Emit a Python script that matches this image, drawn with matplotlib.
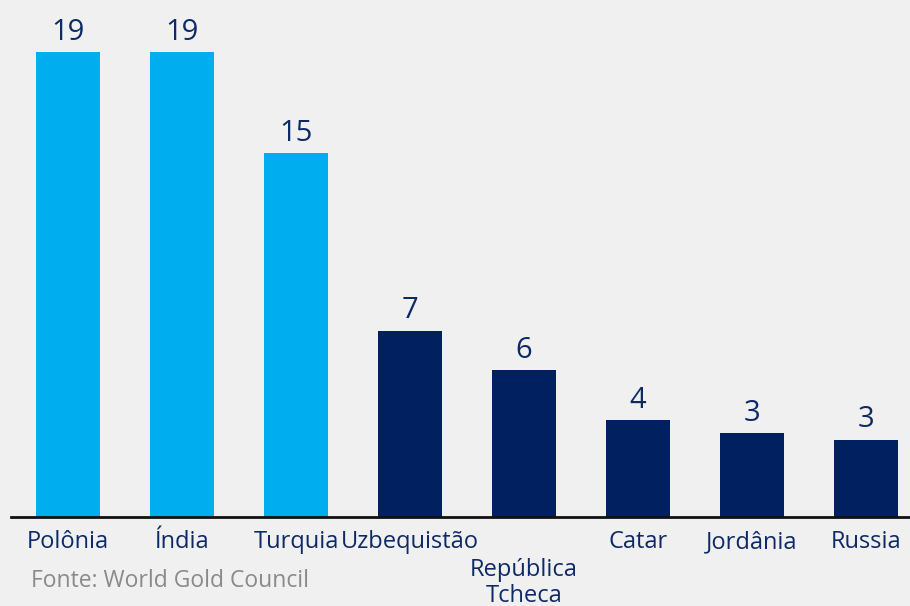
import matplotlib.pyplot as plt
from matplotlib import transforms

countries = ["Polônia", "Índia", "Turquia", "Uzbequistão", "República\nTcheca",
             "Catar", "Jordânia", "Russia"]
values = [19.0, 19.0, 14.87, 7.6, 6.0, 3.96, 3.43, 3.15]
value_labels = ["19", "19", "15", "7", "6", "4", "3", "3"]
colors = ["#00AEEF"] * 3 + ["#00205F"] * 5
source = "Fonte: World Gold Council"

plt.rcParams['font.family'] = ['Open Sans', 'DejaVu Sans']
bg = "#F0F0F0"
navy = "#0E2A66"

fig = plt.figure(figsize=(9.1, 6.06), dpi=100, facecolor=bg)
ax = fig.add_axes([11 / 910, 89 / 606, 899 / 910, 517 / 606])
ax.set_facecolor(bg)

x = list(range(len(countries)))
bars = ax.bar(x, values, width=0.56, color=colors)
ax.bar_label(bars, labels=value_labels, padding=4, fontsize=21, color=navy)

ax.set_xlim(-0.5, 7.386)
ax.set_ylim(0, 21.13)
ax.set_yticks([])
ax.set_xticks([])
for s in ["top", "right", "left"]:
    ax.spines[s].set_visible(False)
ax.spines["bottom"].set_linewidth(2)
ax.spines["bottom"].set_color("#111111")

trans = transforms.blended_transform_factory(ax.transData, ax.transAxes)
for i, name in enumerate(countries):
    off = -9.5 if "\n" not in name else -29.5
    ax.text(i, 0, name, transform=trans + transforms.ScaledTranslation(0, off / 72, fig.dpi_scale_trans),
            ha="center", va="top", fontsize=17, color=navy, linespacing=1.1)

fig.text(31 / 910, 1 - 581 / 606, source, fontsize=16.5, color="#8A8A8A", va="center", ha="left")

fig.savefig("out.png", dpi=100, facecolor=bg)
